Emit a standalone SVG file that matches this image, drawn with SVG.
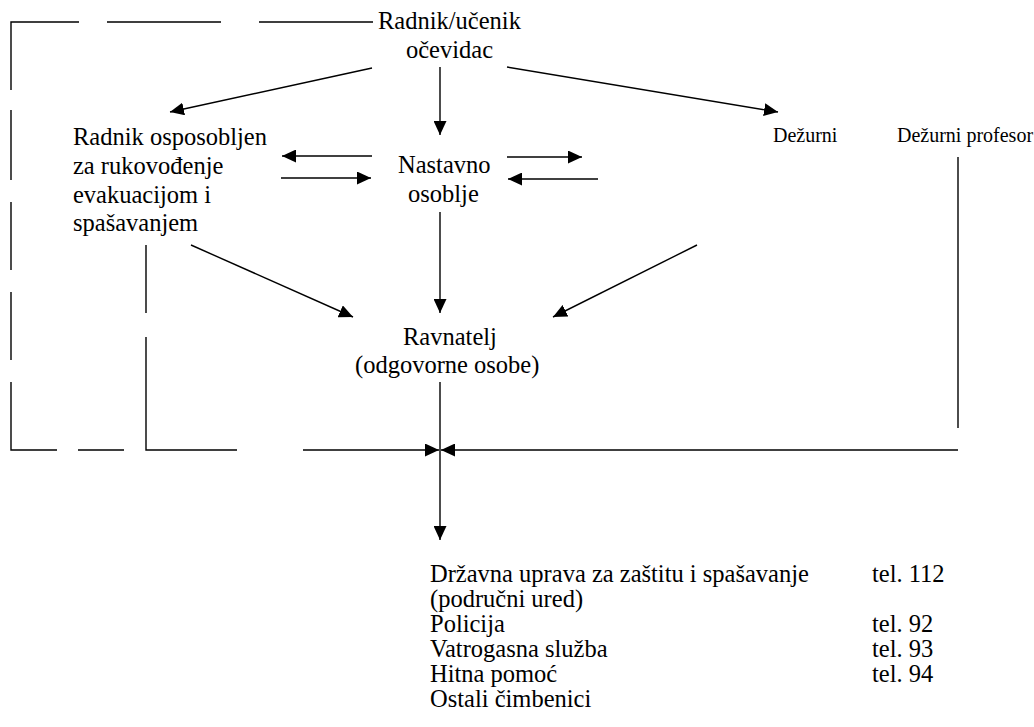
<svg xmlns="http://www.w3.org/2000/svg" width="1034" height="727" viewBox="0 0 1034 727">
<style>
text{fill:#000;font-size:24.5px}
.sm{font-size:20px}
.ln{stroke:#000;stroke-width:1.4;fill:none}
.ar{stroke:#000;stroke-width:1.4;fill:none;marker-end:url(#ah)}
</style>
<defs>
<marker id="ah" markerUnits="userSpaceOnUse" markerWidth="15" markerHeight="13" refX="14" refY="6.5" orient="auto">
<path d="M0,0 L14,6.5 L0,13 Z" fill="#000"/>
</marker>
</defs>
<rect width="1034" height="727" fill="#fff"/>
<g id="connectors">
<path class="ln" d="M11,90 V22 H79 M107,22 H221 M259,22 H373"/>
<path class="ln" d="M11,110 V180 M11,202 V270 M11,292 V360 M11,382 V450 H57 M78,450 H124 M146,245 V313 M146,337 V450 H237"/>
<path class="ar" d="M372,68 L170,112"/>
<path class="ar" d="M440,67 V135"/>
<path class="ar" d="M507,67 L778,112"/>
<path class="ar" d="M372,156 H282"/>
<path class="ar" d="M281,178 H371"/>
<path class="ar" d="M507,157 H582"/>
<path class="ar" d="M598,179 H508"/>
<path class="ar" d="M191,245 L353,317"/>
<path class="ar" d="M440,212 V313"/>
<path class="ar" d="M697,245 L553,317"/>
<path class="ln" d="M958,157 V428"/>
<path class="ar" d="M958,450 H441"/>
<path class="ar" d="M303,450 H439"/>
<path class="ar" d="M440,382 V540"/>
</g>
<g font-family="'Liberation Serif', 'Times New Roman', 'DejaVu Serif', serif">
<g id="n-ocevidac">
<text x="378" y="29">Radnik/učenik</text>
<text x="406" y="58">očevidac</text>
</g>
<g id="n-radnik">
<text x="73" y="145">Radnik osposobljen</text>
<text x="73" y="174">za rukovođenje</text>
<text x="73" y="203">evakuacijom i</text>
<text x="73" y="231">spašavanjem</text>
</g>
<g id="n-nastavno">
<text x="398" y="173">Nastavno</text>
<text x="408" y="202">osoblje</text>
</g>
<g id="n-dezurni">
<text class="sm" x="773" y="142">Dežurni</text>
</g>
<g id="n-dezurni-prof">
<text class="sm" x="897" y="142">Dežurni profesor</text>
</g>
<g id="n-ravnatelj">
<text x="403" y="345">Ravnatelj</text>
<text x="355" y="373">(odgovorne osobe)</text>
</g>
<g id="n-sluzbe">
<text x="430" y="582">Državna uprava za zaštitu i spašavanje</text>
<text x="430" y="607">(područni ured)</text>
<text x="430" y="632">Policija</text>
<text x="430" y="657">Vatrogasna služba</text>
<text x="430" y="682">Hitna pomoć</text>
<text x="430" y="707">Ostali čimbenici</text>
<text x="872" y="582">tel. 112</text>
<text x="872" y="632">tel. 92</text>
<text x="872" y="657">tel. 93</text>
<text x="872" y="682">tel. 94</text>
</g>
</g>
</svg>
